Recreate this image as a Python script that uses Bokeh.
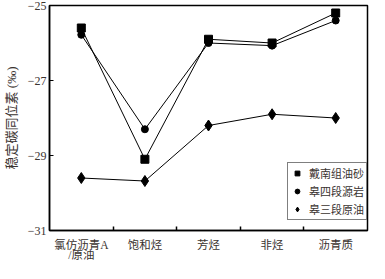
from bokeh.plotting import figure
from bokeh.models import FixedTicker, LinearAxis, Legend, LegendItem, Range1d
from bokeh.embed import file_html
from bokeh.resources import INLINE

categories = ["氯仿沥青A\n/原油", "饱和烃", "芳烃", "非烃", "沥青质"]
dainan = [-25.6, -29.1, -25.9, -26.0, -25.2]
gao4 = [-25.78, -28.3, -26.0, -26.07, -25.4]
gao3 = [-29.6, -29.68, -28.2, -27.9, -28.0]
series_names = ["戴南组油砂", "皋四段源岩", "皋三段原油"]
y_ticks = [-31, -29, -27, -25]

xs = [i + 0.5 for i in range(len(categories))]
bounds = list(range(1, len(categories)))
FONT = "'Liberation Serif', 'Noto Sans CJK SC'"
TXT = "#3a3330"

p = figure(width=369, height=263, output_backend="svg", toolbar_location=None,
           x_range=Range1d(0, len(categories)), y_range=Range1d(-31, -25),
           min_border_left=40, min_border_right=2, min_border_top=5, min_border_bottom=0)
p.xaxis.visible = False
p.grid.visible = False
p.outline_line_color = "black"
p.outline_line_width = 1.5

# y axis
p.yaxis.ticker = FixedTicker(ticks=y_ticks)
p.yaxis.major_tick_in = 4
p.yaxis.major_tick_out = 0
p.yaxis.minor_tick_line_color = None
p.yaxis.axis_line_color = "black"
p.yaxis.axis_line_width = 1.5
p.yaxis.major_label_text_font = FONT
p.yaxis.major_label_text_font_size = "12px"
p.yaxis.major_label_text_color = TXT
p.yaxis.axis_label = "稳定碳同位素 (‰)"
p.yaxis.axis_label_text_font = FONT
p.yaxis.axis_label_text_font_size = "13px"
p.yaxis.axis_label_text_font_style = "normal"
p.yaxis.axis_label_text_color = TXT
p.yaxis.axis_label_standoff = 6
p.yaxis.major_label_standoff = 3

# bottom axis: labels at category centres, ticks (minor) between categories
lab_ax = LinearAxis(ticker=FixedTicker(ticks=xs, minor_ticks=bounds),
                    major_label_overrides={x: c for x, c in zip(xs, categories)},
                    major_tick_line_color=None,
                    minor_tick_in=4, minor_tick_out=0, minor_tick_line_color="black",
                    minor_tick_line_width=1.5,
                    axis_line_color="black", axis_line_width=1.5, major_label_standoff=2,
                    major_label_text_font=FONT, major_label_text_font_size="11.5px",
                    major_label_text_line_height=0.85,
                    major_label_text_color=TXT)
p.add_layout(lab_ax, "below")

p.line(xs, dainan, line_color="black", line_width=1)
m1 = p.scatter(xs, dainan, marker="square", size=8, color="black")
p.line(xs, gao4, line_color="black", line_width=1)
m2 = p.scatter(xs, gao4, marker="circle", size=7, color="black")
p.line(xs, gao3, line_color="black", line_width=1)
m3 = p.scatter(xs, gao3, marker="diamond", size=11, color="black")

legend = Legend(items=[LegendItem(label=series_names[0], renderers=[m1]),
                       LegendItem(label=series_names[1], renderers=[m2]),
                       LegendItem(label=series_names[2], renderers=[m3])],
                location=(238, 10), border_line_color="black", border_line_width=1,
                label_text_font=FONT, label_text_font_size="11px", label_text_color=TXT,
                glyph_width=14, glyph_height=12, label_height=12, spacing=2,
                padding=2, margin=0, label_standoff=5, background_fill_alpha=1)
p.add_layout(legend, "center")

open("out.html", "w").write(file_html(p, INLINE))
